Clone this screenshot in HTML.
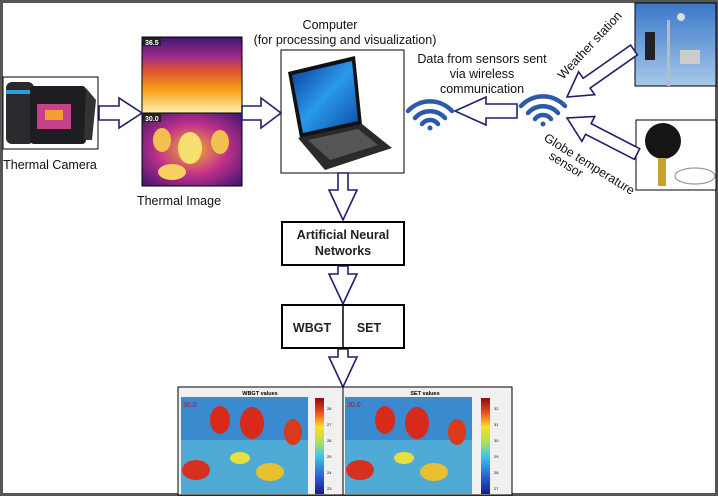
<!DOCTYPE html>
<html><head><meta charset="utf-8">
<style>
html,body{margin:0;padding:0;background:#fff;}
#root{position:relative;width:718px;height:497px;overflow:hidden;font-family:"Liberation Sans",sans-serif;}
</style></head>
<body>
<div id="root">
<svg width="718" height="497" viewBox="0 0 718 497" xmlns="http://www.w3.org/2000/svg" font-family="Liberation Sans, sans-serif">
<defs>
 <linearGradient id="thTop" x1="0" y1="0" x2="0" y2="1">
  <stop offset="0" stop-color="#3a1670"/><stop offset="0.25" stop-color="#9b2a8c"/><stop offset="0.45" stop-color="#e0542f"/><stop offset="0.7" stop-color="#f7a21a"/><stop offset="1" stop-color="#fff3b0"/>
 </linearGradient>
 <radialGradient id="thBot" cx="0.5" cy="0.5" r="0.7">
  <stop offset="0" stop-color="#f7b030"/><stop offset="0.5" stop-color="#c0308a"/><stop offset="1" stop-color="#3a1670"/>
 </radialGradient>
 <linearGradient id="jet" x1="0" y1="1" x2="0" y2="0">
  <stop offset="0" stop-color="#1a1a8a"/><stop offset="0.2" stop-color="#2a6ad8"/><stop offset="0.4" stop-color="#40c8e8"/><stop offset="0.55" stop-color="#b8e050"/><stop offset="0.7" stop-color="#f8e020"/><stop offset="0.85" stop-color="#f04a20"/><stop offset="1" stop-color="#8a0a0a"/>
 </linearGradient>
 <linearGradient id="screen" x1="0" y1="0" x2="1" y2="1">
  <stop offset="0" stop-color="#0a3a9a"/><stop offset="0.5" stop-color="#2a9ae8"/><stop offset="1" stop-color="#0a4aa8"/>
 </linearGradient>
 <linearGradient id="sky" x1="0" y1="0" x2="0" y2="1">
  <stop offset="0" stop-color="#3a78c8"/><stop offset="1" stop-color="#a8c8ea"/>
 </linearGradient>
</defs>

<rect x="1.5" y="1.5" width="715" height="493" fill="none" stroke="#555" stroke-width="3"/>

<g>
 <rect x="3" y="77" width="95" height="72" fill="#fff" stroke="#000"/>
 <rect x="6" y="82" width="28" height="62" rx="6" fill="#2a2a2e"/>
 <rect x="6" y="90" width="28" height="4" fill="#2aa0d8"/>
 <rect x="30" y="86" width="56" height="58" rx="4" fill="#1e1e22"/>
 <rect x="37" y="104" width="34" height="25" fill="#c8408a"/>
 <rect x="45" y="110" width="18" height="10" fill="#f0a030"/>
 <path d="M86 88 L96 100 L92 140 L84 140 Z" fill="#333"/>
</g>
<text x="50" y="169" font-size="12.5" text-anchor="middle" fill="#111">Thermal Camera</text>

<g>
 <rect x="142" y="37" width="100" height="76" fill="url(#thTop)"/>
 <rect x="142" y="113" width="100" height="73" fill="url(#thBot)"/>
 <ellipse cx="190" cy="148" rx="12" ry="16" fill="#f8e070"/>
 <ellipse cx="162" cy="140" rx="9" ry="12" fill="#f2c050"/>
 <ellipse cx="220" cy="142" rx="9" ry="12" fill="#f2c050"/>
 <ellipse cx="172" cy="172" rx="14" ry="8" fill="#f8d060"/>
 <rect x="142" y="37" width="100" height="149" fill="none" stroke="#000"/>
 <line x1="142" y1="113" x2="242" y2="113" stroke="#000"/>
 <rect x="143" y="38" width="18" height="8" fill="#222"/>
 <text x="145" y="45" font-size="7" fill="#fff" font-weight="bold">36.5</text>
 <rect x="143" y="114" width="18" height="8" fill="#222"/>
 <text x="145" y="121" font-size="7" fill="#fff" font-weight="bold">30.0</text>
</g>
<text x="179" y="205" font-size="12.5" text-anchor="middle" fill="#111">Thermal Image</text>

<text x="330" y="29" font-size="12.5" text-anchor="middle" fill="#111">Computer</text>
<text x="345" y="44" font-size="12.5" text-anchor="middle" fill="#111">(for processing and visualization)</text>
<g>
 <rect x="281" y="50" width="123" height="123" fill="#fff" stroke="#000"/>
 <path d="M288 72 L355 56 L362 125 L300 138 Z" fill="#111"/>
 <path d="M292 75 L352 61 L358 121 L303 133 Z" fill="url(#screen)"/>
 <path d="M298 138 L362 124 L392 148 L325 170 Z" fill="#2a2a2a"/>
 <path d="M308 140 L358 129 L378 145 L330 160 Z" fill="#555"/>
</g>

<path d="M99 106 L119 106 L119 98 L142 113 L119 128 L119 120 L99 120 Z" fill="#fff" stroke="#1f1f6b" stroke-width="1.6"/>
<path d="M242 106 L261 106 L261 98 L281 113 L261 128 L261 120 L242 120 Z" fill="#fff" stroke="#1f1f6b" stroke-width="1.6"/>

<path d="M338 173 L348 173 L348 190 L357 190 L343 220 L329 190 L338 190 Z" fill="#fff" stroke="#1f1f6b" stroke-width="1.6"/>
<path d="M338 266 L348 266 L348 274 L357 274 L343 304 L329 274 L338 274 Z" fill="#fff" stroke="#1f1f6b" stroke-width="1.6"/>
<path d="M338 349 L348 349 L348 357 L357 357 L343 387 L329 357 L338 357 Z" fill="#fff" stroke="#1f1f6b" stroke-width="1.6"/>

<rect x="282" y="222" width="122" height="43" fill="#fff" stroke="#000" stroke-width="2"/>
<text x="343" y="239" font-size="12.5" font-weight="bold" text-anchor="middle" fill="#222">Artificial Neural</text>
<text x="343" y="255" font-size="12.5" font-weight="bold" text-anchor="middle" fill="#222">Networks</text>

<rect x="282" y="305" width="122" height="43" fill="#fff" stroke="#000" stroke-width="2"/>
<line x1="343" y1="305" x2="343" y2="348" stroke="#000" stroke-width="1.5"/>
<text x="312" y="332" font-size="12.5" font-weight="bold" text-anchor="middle" fill="#222">WBGT</text>
<text x="369" y="332" font-size="12.5" font-weight="bold" text-anchor="middle" fill="#222">SET</text>

<g>
 <rect x="178" y="387" width="165" height="108" fill="#f0f0f0" stroke="#000"/>
 <text x="260" y="395" font-size="5.5" font-weight="bold" text-anchor="middle">WBGT values</text>
 <rect x="181" y="397" width="127" height="97" fill="#3a8ad0"/>
 <rect x="181" y="440" width="127" height="54" fill="#58b8d8" opacity="0.7"/>
 <ellipse cx="220" cy="420" rx="10" ry="14" fill="#d82a1a"/>
 <ellipse cx="252" cy="423" rx="12" ry="16" fill="#d82a1a"/>
 <ellipse cx="293" cy="432" rx="9" ry="13" fill="#d83a1a"/>
 <ellipse cx="196" cy="470" rx="14" ry="10" fill="#d83020"/>
 <ellipse cx="270" cy="472" rx="14" ry="9" fill="#e8c030"/>
 <ellipse cx="240" cy="458" rx="10" ry="6" fill="#e8e040"/>
 <text x="183" y="407" font-size="7" fill="#c01010">30.0</text>
 <rect x="315" y="398" width="9" height="96" fill="url(#jet)"/>
 <text x="327" y="410" font-size="4">28</text><text x="327" y="426" font-size="4">27</text><text x="327" y="442" font-size="4">26</text><text x="327" y="458" font-size="4">25</text><text x="327" y="474" font-size="4">24</text><text x="327" y="490" font-size="4">23</text>
</g>
<g>
 <rect x="343" y="387" width="169" height="108" fill="#f0f0f0" stroke="#000"/>
 <text x="425" y="395" font-size="5.5" font-weight="bold" text-anchor="middle">SET values</text>
 <rect x="345" y="397" width="127" height="97" fill="#3a8ad0"/>
 <rect x="345" y="440" width="127" height="54" fill="#58b8d8" opacity="0.7"/>
 <ellipse cx="385" cy="420" rx="10" ry="14" fill="#d82a1a"/>
 <ellipse cx="417" cy="423" rx="12" ry="16" fill="#d82a1a"/>
 <ellipse cx="457" cy="432" rx="9" ry="13" fill="#d83a1a"/>
 <ellipse cx="360" cy="470" rx="14" ry="10" fill="#d83020"/>
 <ellipse cx="434" cy="472" rx="14" ry="9" fill="#e8c030"/>
 <ellipse cx="404" cy="458" rx="10" ry="6" fill="#e8e040"/>
 <text x="347" y="407" font-size="7" fill="#c01010">30.0</text>
 <rect x="481" y="398" width="9" height="96" fill="url(#jet)"/>
 <text x="494" y="410" font-size="4">32</text><text x="494" y="426" font-size="4">31</text><text x="494" y="442" font-size="4">30</text><text x="494" y="458" font-size="4">29</text><text x="494" y="474" font-size="4">28</text><text x="494" y="490" font-size="4">27</text>
</g>

<g fill="none" stroke="#2a5aa8" stroke-linecap="round">
 <path d="M408 111 A30 30 0 0 1 452 111" stroke-width="4.5"/>
 <path d="M415 118 A20 20 0 0 1 445 118" stroke-width="4.5"/>
 <path d="M422 124 A10 10 0 0 1 438 124" stroke-width="4.5"/>
 <circle cx="430" cy="128" r="2.5" fill="#2a5aa8" stroke="none"/>
</g>
<g fill="none" stroke="#2a5aa8" stroke-linecap="round">
 <path d="M521 106 A30 30 0 0 1 565 106" stroke-width="4.5"/>
 <path d="M528 113 A20 20 0 0 1 558 113" stroke-width="4.5"/>
 <path d="M535 119 A10 10 0 0 1 551 119" stroke-width="4.5"/>
 <circle cx="543" cy="124" r="2.5" fill="#2a5aa8" stroke="none"/>
</g>

<path d="M517 104 L486 104 L486 97 L455 111 L486 125 L486 118 L517 118 Z" fill="#fff" stroke="#1f1f6b" stroke-width="1.6"/>

<text x="482" y="63" font-size="12.5" text-anchor="middle" fill="#111">Data from sensors sent</text>
<text x="482" y="78" font-size="12.5" text-anchor="middle" fill="#111">via wireless</text>
<text x="482" y="93" font-size="12.5" text-anchor="middle" fill="#111">communication</text>

<g>
 <rect x="635" y="3" width="81" height="83" fill="url(#sky)" stroke="#000"/>
 <rect x="667" y="20" width="3" height="66" fill="#bbb"/>
 <rect x="645" y="32" width="10" height="28" fill="#222"/>
 <rect x="680" y="50" width="20" height="14" fill="#ccc"/>
 <circle cx="681" cy="17" r="4" fill="#ddd"/>
</g>
<g>
 <rect x="636" y="120" width="80" height="70" fill="#fff" stroke="#000"/>
 <circle cx="663" cy="141" r="18" fill="#151515"/>
 <rect x="658" y="158" width="8" height="28" fill="#c8a030"/>
 <ellipse cx="695" cy="176" rx="20" ry="8" fill="none" stroke="#999" stroke-width="1.2"/>
</g>

<path id="arrW" d="" fill="#fff" stroke="#1f1f6b" stroke-width="1.6"/>
<path id="arrG" d="" fill="#fff" stroke="#1f1f6b" stroke-width="1.6"/>

<text transform="translate(563,80) rotate(-47)" font-size="12.5" fill="#111">Weather station</text>
<text transform="translate(543,140) rotate(32)" font-size="12.5" fill="#111">Globe temperature</text>
<text transform="translate(548,158) rotate(32)" font-size="12.5" fill="#111">sensor</text>
</svg>
<script>
function arrowPath(x1,y1,x2,y2,sw,hw,hl){
  var dx=x2-x1,dy=y2-y1,L=Math.sqrt(dx*dx+dy*dy),ux=dx/L,uy=dy/L,nx=-uy,ny=ux;
  var bx=x2-ux*hl,by=y2-uy*hl;
  var p=[[x1+nx*sw,y1+ny*sw],[bx+nx*sw,by+ny*sw],[bx+nx*hw,by+ny*hw],[x2,y2],[bx-nx*hw,by-ny*hw],[bx-nx*sw,by-ny*sw],[x1-nx*sw,y1-ny*sw]];
  return 'M'+p.map(function(q){return q[0].toFixed(1)+' '+q[1].toFixed(1);}).join(' L')+' Z';
}
document.getElementById('arrW').setAttribute('d',arrowPath(634,50,567,97,6,14,24));
document.getElementById('arrG').setAttribute('d',arrowPath(637,154,567,118,6,14,24));
</script>
</div>
</body></html>
